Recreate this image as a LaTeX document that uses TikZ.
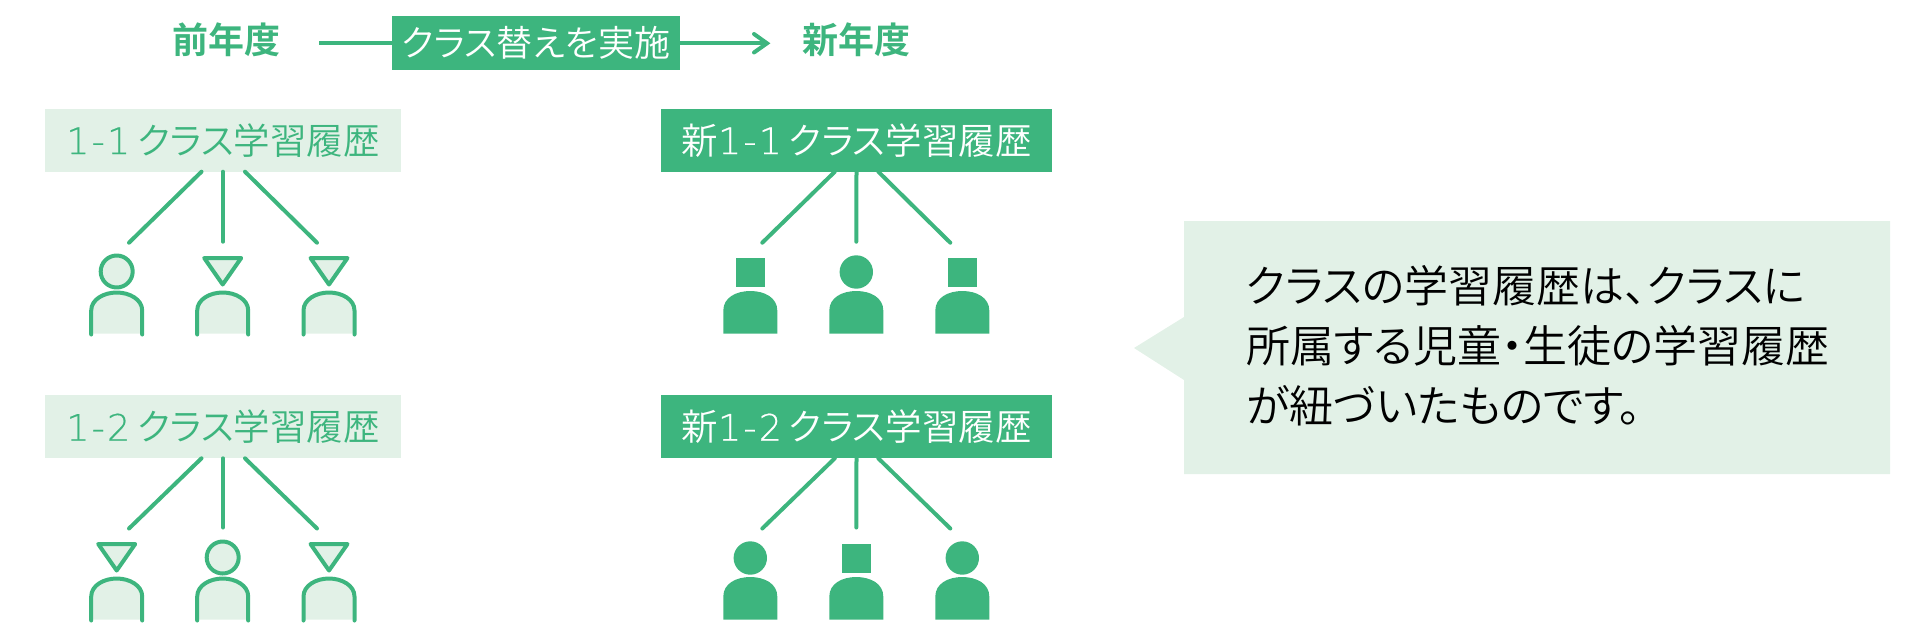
\documentclass[tikz,border=0pt]{standalone}
\usepackage{fontspec}
\newfontfamily\jp[RawFeature={+palt}]{Noto Sans CJK JP DemiLight}
\newfontfamily\jpb{Noto Sans CJK JP Bold}
\newfontfamily\lat[LetterSpace=6,FakeBold=0.5]{DejaVu Sans ExtraLight}
\definecolor{grn}{HTML}{3DB57E}
\definecolor{pale}{HTML}{E2F1E7}
\tikzset{
  x=1pt,y=-1pt,
  band/.style={minimum width=#1,minimum height=63,inner sep=0,outer sep=0,font=\jp\fontsize{36.5}{40}\selectfont},
  oldband/.style={band=356,fill=pale,text=grn},
  newband/.style={band=391,fill=grn,text=white},
  year/.style={text=grn,inner sep=0,font=\jpb\fontsize{36}{40}\selectfont},
  wire/.style={draw=grn,line width=4pt,line cap=round},
  outl/.style={draw=grn,fill=pale,line width=4pt,line join=round,line cap=round}
}
\newcommand{\bodyfill}[1]{\fill[#1] (-27,0) -- (-27,-23) .. controls (-27,-36) and (-14,-42.5) .. (0,-42.5) .. controls (14,-42.5) and (27,-36) .. (27,-23) -- (27,0) -- cycle;}
\newcommand{\personsolid}[3]{% x, y, head
  \begin{scope}[shift={(#1,#2)}]
    \bodyfill{grn}
    \ifnum#3=0 \fill[grn] (0,-61.5) circle[radius=16.7];\else \fill[grn] (-14.7,-76) rectangle (14.7,-46.7);\fi
  \end{scope}}
\newcommand{\personline}[3]{% x, y, head
  \begin{scope}[shift={(#1,#2)}]
    \fill[pale] (-25.5,0) -- (-25.5,-23) .. controls (-25.5,-34) and (-13,-41) .. (0,-41) .. controls (13,-41) and (25.5,-34) .. (25.5,-23) -- (25.5,0) -- cycle;
    \draw[wire] (-25.5,1) -- (-25.5,-23) .. controls (-25.5,-34) and (-13,-41) .. (0,-41) .. controls (13,-41) and (25.5,-34) .. (25.5,-23) -- (25.5,1);
    \ifnum#3=0 \draw[outl] (0,-62) circle[radius=16];\else \draw[outl] (-18.5,-75.5) -- (18.5,-75.5) -- (0,-49) -- cycle;\fi
  \end{scope}}
\newcommand{\fan}[3]{% box, x centre, y end
  \coordinate (#1l) at (#2-94,#3); \coordinate (#1c) at (#2,#3-1); \coordinate (#1r) at (#2+94,#3);
  \coordinate (#1sl) at (#2-21.5,#3-71); \coordinate (#1sr) at (#2+22,#3-71);
  \draw[wire] (#1.south -| #1sl) -- (#1l);
  \draw[wire] (#1.south) -- (#1c);
  \draw[wire] (#1.south -| #1sr) -- (#1r);
}
\begin{document}
\begin{tikzpicture}
\useasboundingbox (0,0) rectangle (1920,638);
\coordinate (startw) at (319,43.3);
\coordinate (tip) at (767,43.3);
\coordinate (tipa) at (754,34);
\coordinate (tipb) at (754,52.5);
\node[year] (prev) at (226,40) {前年度};
\node[year] (next) at (856,40) {新年度};
\node[minimum width=288,minimum height=54,inner sep=0,outer sep=0,fill=grn,text=white,font=\jp\fontsize{36}{40}\selectfont] (swap) at (536,43) {クラス替えを実施};
\draw[wire,line cap=butt] (startw) -- (swap.west |- startw);
\draw[wire,line cap=butt] (swap.east |- tip) -- (tip);
\draw[wire,line join=miter] (tipa) -- (tip) -- (tipb);
% boxes
\node[oldband] (a) at (223,140.2) {{\lat 1-1}\kern7pt\jp クラス学習履歴};
\node[oldband] (b) at (223,426.8) {{\lat 1-2}\kern7pt\jp クラス学習履歴};
\node[newband] (c) at (856.5,140.2) {新{\lat 1-1}\kern7pt\jp クラス学習履歴};
\node[newband] (d) at (856.5,426.8) {新{\lat 1-2}\kern7pt\jp クラス学習履歴};
\fan{a}{223}{242.7}
\fan{b}{223}{528.5}
\fan{c}{856.3}{242.7}
\fan{d}{856.3}{528.5}
% people
\personline{116.7}{333.5}{0}
\personline{222.7}{333.5}{1}
\personline{329}{333.5}{1}
\personline{116.7}{619.5}{1}
\personline{222.7}{619.5}{0}
\personline{329}{619.5}{1}
\personsolid{750.3}{333.5}{1}
\personsolid{856.3}{333.5}{0}
\personsolid{962.3}{333.5}{1}
\personsolid{750.3}{619.5}{0}
\personsolid{856.3}{619.5}{1}
\personsolid{962.3}{619.5}{0}
% callout
\fill[pale] (1184,221) -- (1890,221) -- (1890,474) -- (1184,474) -- (1184,380) -- (1134,348) -- (1184,317) -- cycle;
\node[anchor=north west,inner sep=0,align=left,font=\jp\fontsize{44}{60}\selectfont] (note) at (1246,265) {クラスの学習履歴は、クラスに\\所属する児童・生徒の学習履歴\\が紐づいたものです。};
\end{tikzpicture}
\end{document}
